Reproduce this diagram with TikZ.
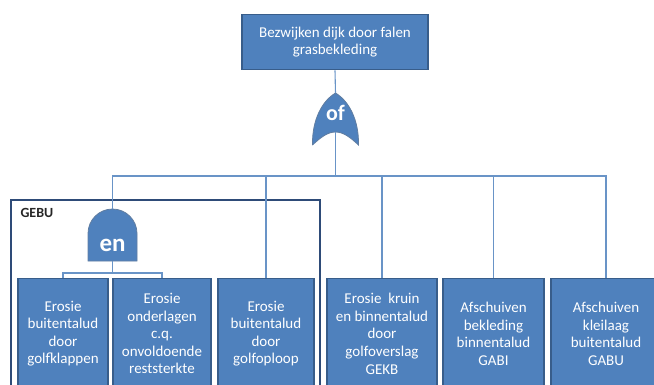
\documentclass[tikz,border=0pt]{standalone}
\usepackage{fontspec}
\setmainfont{Carlito}
\usepackage{tikz}
\usetikzlibrary{positioning}
\definecolor{boxblue}{HTML}{4F81BD}
\definecolor{boxborder}{HTML}{385D8A}
\definecolor{framenavy}{HTML}{2E4B78}
\tikzset{
  blue box/.style={
    fill=boxblue,
    draw=boxborder,
    line width=1.3pt,
    text=white,
    align=center,
    minimum width={#1pt},
    minimum height={110pt},
    anchor=north,
    inner sep=0pt,
    font=\fontsize{15}{17.6}\selectfont,
  },
  gate/.style={
    fill=boxblue,
    draw=boxborder!80,
    line width=0.8pt,
  },
  gate label/.style={
    text=white,
    font=\bfseries,
  },
  link/.style={
    draw=boxblue!85,
    line width=1.1pt,
  }
}

\begin{document}
\begin{tikzpicture}[x=1pt,y=1pt]
  \useasboundingbox (0,0) rectangle (654,-384);

  % top event
  \node [blue box=186, minimum height=55pt] (top) at (335,-14)
    {Bezwijken dijk door falen\\grasbekleding};

  % of-gate
  \filldraw [gate] (312.5,-145) .. controls (312,-120) and (322,-101) .. (335.5,-93)
    .. controls (349,-101) and (359,-120) .. (358.5,-145)
    .. controls (350,-137) and (343,-132) .. (335.5,-132)
    .. controls (328,-132) and (321,-137) .. (312.5,-145);
  \node [gate label, font=\fontsize{22}{22}\bfseries] (of) at (335.5,-113) {of};
  \coordinate (of top) at (335.5,-93);
  \coordinate (of bot) at (335.5,-132);
  \coordinate (bus) at (335.5,-176);

  % GEBU frame
  \draw [framenavy, line width=1.4pt] (11,-395) |- (320,-200) -- (320,-395);
  \node [text=black!85, font=\fontsize{14}{14}\bfseries, anchor=west] (gebu) at (17,-213) {GEBU};

  % en-gate
  \filldraw [gate] (88,-261) -- (88,-233.5) arc[start angle=180, end angle=0, radius=24.5]
    -- (137,-261) -- cycle;
  \node [gate label, font=\fontsize{25}{25}\bfseries] (en) at (112.5,-245) {en};
  \coordinate (en top) at (112.5,-209);
  \coordinate (en bot) at (112.5,-261);
  \coordinate (en bus) at (112.5,-273);

  % basic events
  \node [blue box=90] (b1) at (63,-278) {Erosie\\buitentalud\\door\\golfklappen};
  \node [blue box=98] (b2) at (162,-278) {Erosie\\onderlagen\\c.q.\\onvoldoende\\reststerkte};
  \node [blue box=96] (b3) at (266,-278) {Erosie\\buitentalud\\door\\golfoploop};
  \node [blue box=110] (b4) at (382,-278) {Erosie\ \ kruin\\en binnentalud\\door\\golfoverslag\\GEKB};
  \node [blue box=101] (b5) at (493.5,-278) {Afschuiven\\bekleding\\binnentalud\\GABI};
  \node [blue box=110] (b6) at (606,-278) {Afschuiven\\kleilaag\\buitentalud\\GABU};

  % connectors
  \draw [link] (top.south) -- (of top);
  \draw [link] (of bot) -- (bus);
  \draw [link] (bus) -| (en top);
  \foreach \b in {b3,b4,b5,b6}
    \draw [link] (bus) -| (\b.north);
  \draw [link] (en bot) -- (en bus);
  \draw [link] (en bus) -| (b1.north);
  \draw [link] (en bus) -| (b2.north);
\end{tikzpicture}
\end{document}
